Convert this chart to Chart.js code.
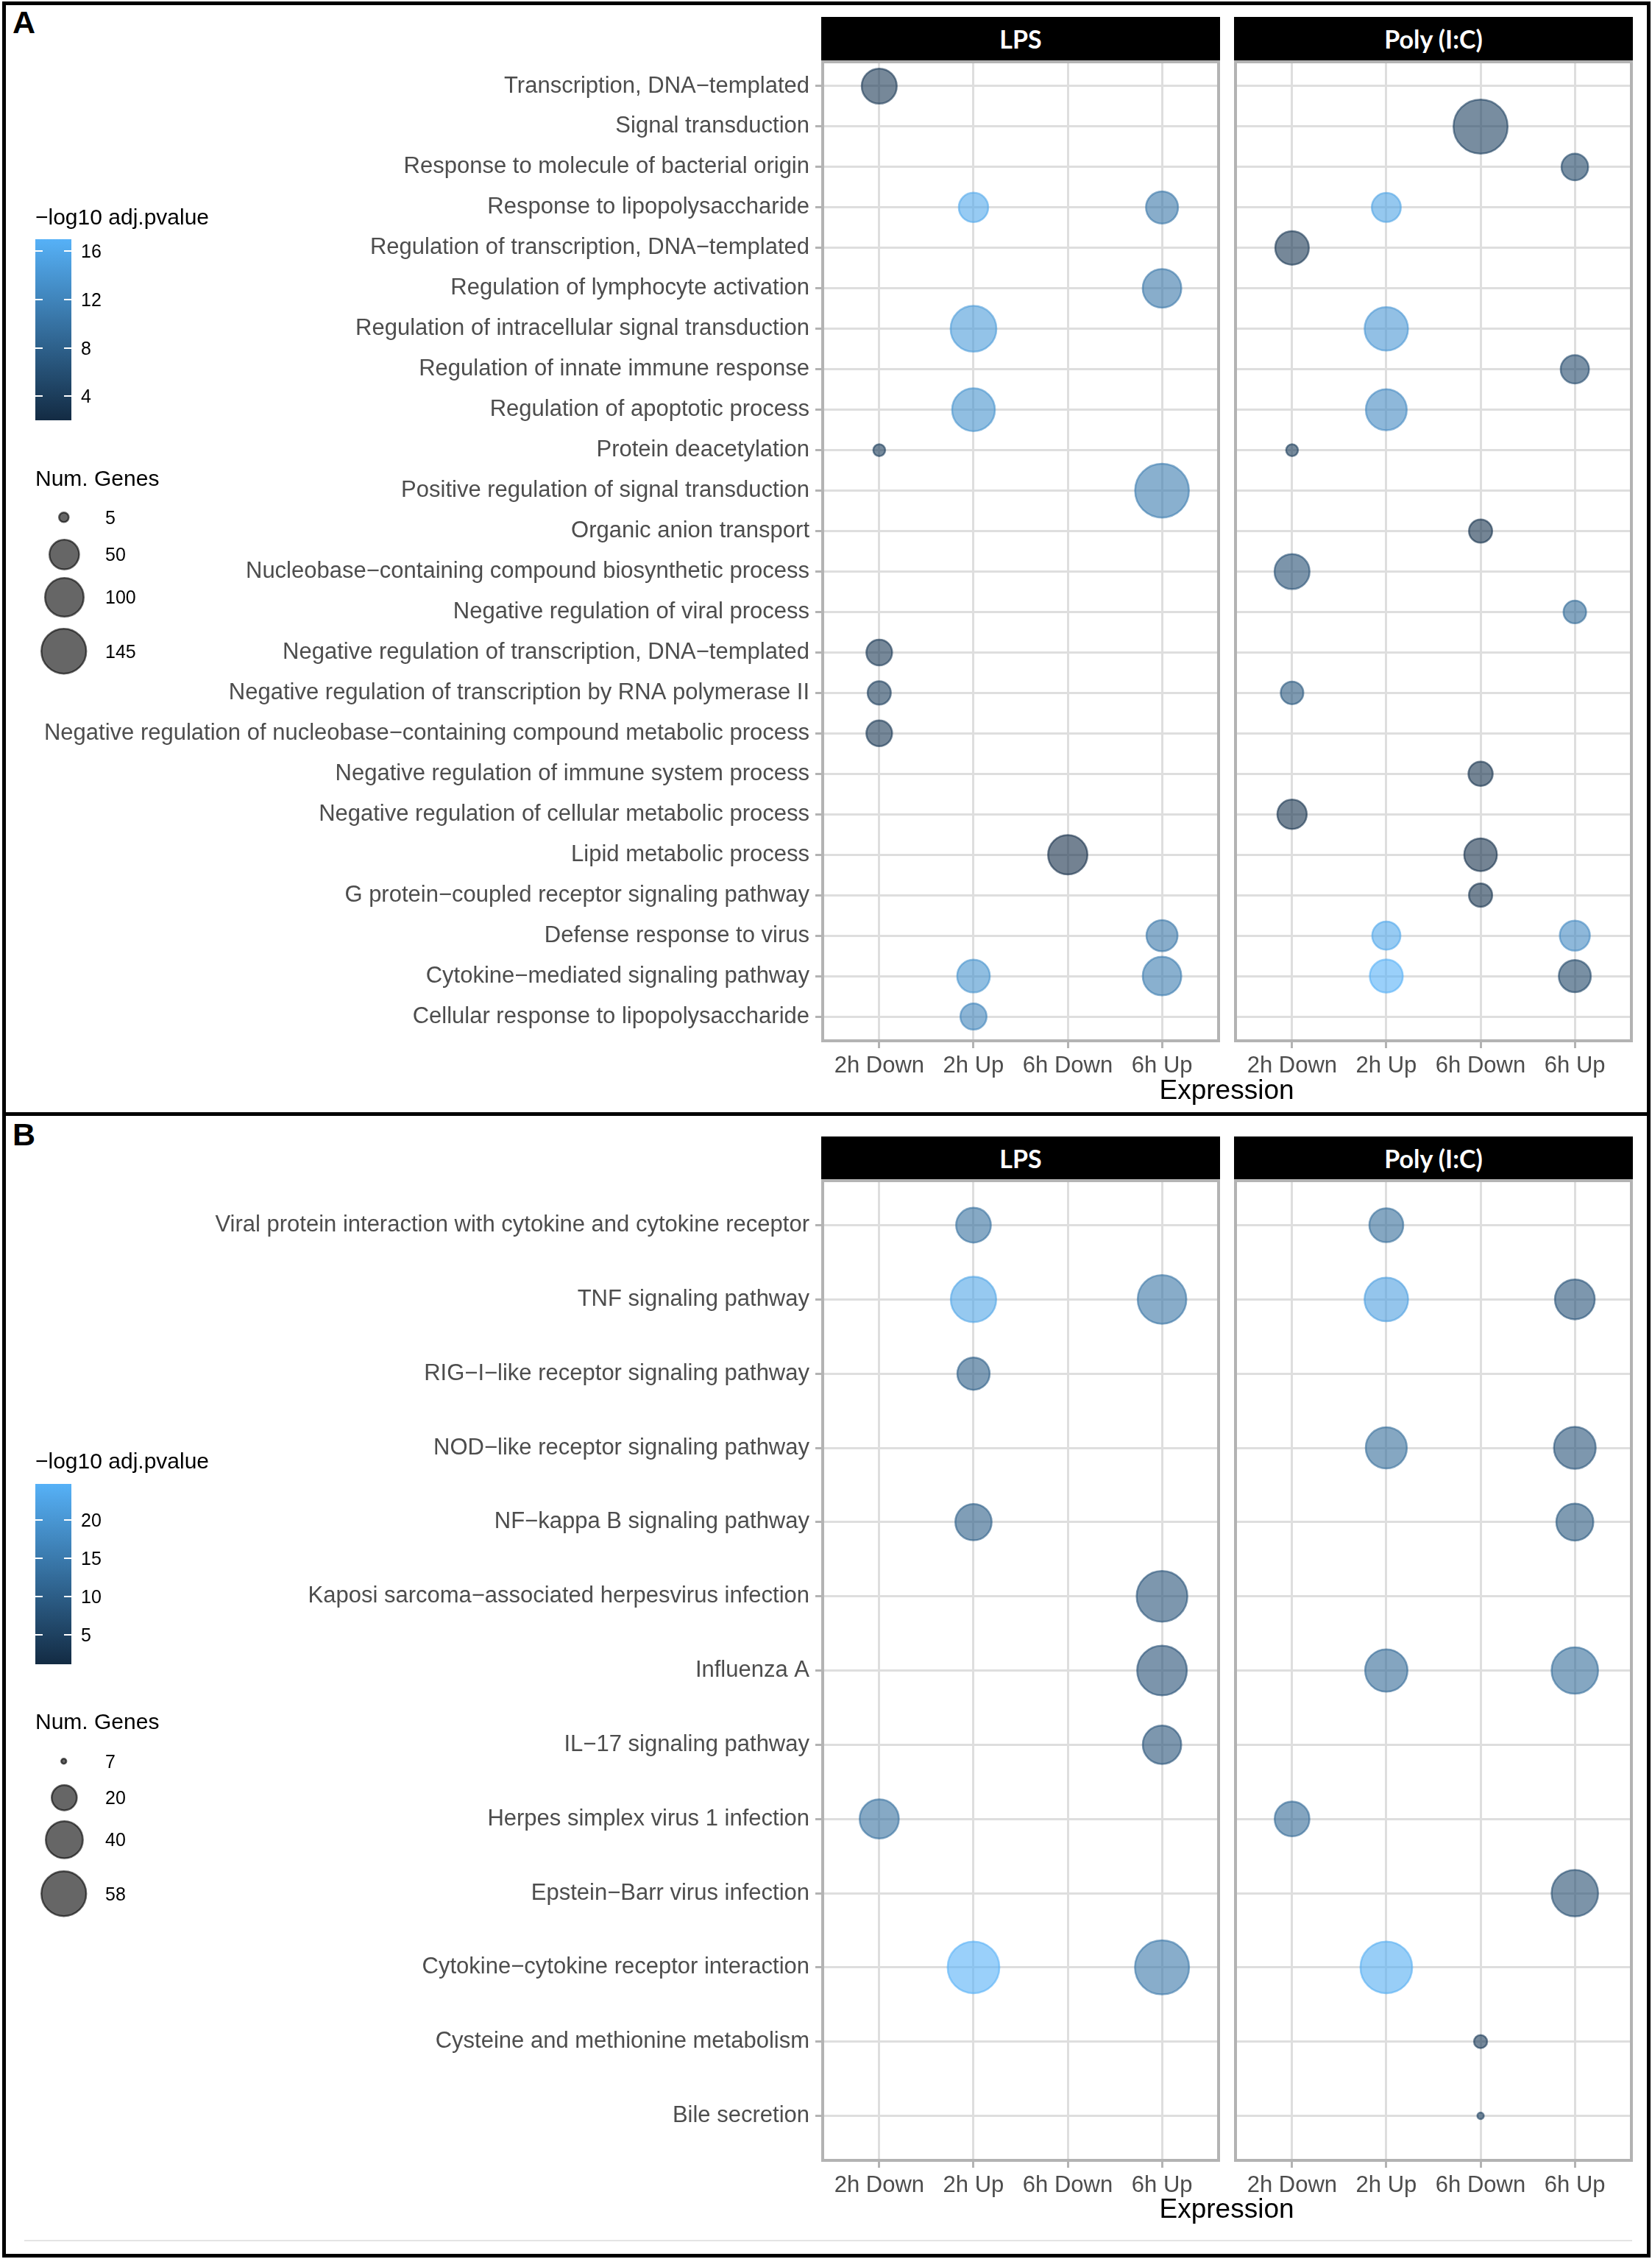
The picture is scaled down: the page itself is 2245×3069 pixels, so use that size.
<!DOCTYPE html>
<html>
<head>
<meta charset="utf-8">
<script src="https://cdn.jsdelivr.net/npm/chart.js@4.4.1/dist/chart.umd.min.js"></script>
<style>
  body { margin: 0; background: #fff; }
  #page { position: relative; width: 2245px; height: 3069px; overflow: hidden; background: #fff;
          font-family: 'Liberation Sans', Arial, sans-serif; }
  #page canvas { position: absolute; }
  .txt { position: absolute; line-height: 1; white-space: nowrap; color: #000; }
  .frame { position: absolute; border: 5px solid #000; box-sizing: border-box; }
  .strip { position: absolute; background: #000; color: #fff; display: flex; align-items: center;
           justify-content: center; font: bold 34px Lato, 'Open Sans', sans-serif; }
</style>
</head>
<body>
<div id="page">
  <div class="frame" style="left:3px;top:2px;width:2240px;height:1514px"></div>
  <div class="frame" style="left:3px;top:1511px;width:2240px;height:1556px"></div>
  <div style="position:absolute;left:33px;top:3043px;width:2185px;height:2px;background:#e4e4e4"></div>
</div>
<script>
// ---- data ----
var expression = ['2h Down', '2h Up', '6h Down', '6h Up'];
var treatments = ['LPS', 'Poly (I:C)'];

// panel A : GO biological process
var termsA = [
  'Transcription, DNA−templated',
  'Signal transduction',
  'Response to molecule of bacterial origin',
  'Response to lipopolysaccharide',
  'Regulation of transcription, DNA−templated',
  'Regulation of lymphocyte activation',
  'Regulation of intracellular signal transduction',
  'Regulation of innate immune response',
  'Regulation of apoptotic process',
  'Protein deacetylation',
  'Positive regulation of signal transduction',
  'Organic anion transport',
  'Nucleobase−containing compound biosynthetic process',
  'Negative regulation of viral process',
  'Negative regulation of transcription, DNA−templated',
  'Negative regulation of transcription by RNA polymerase II',
  'Negative regulation of nucleobase−containing compound metabolic process',
  'Negative regulation of immune system process',
  'Negative regulation of cellular metabolic process',
  'Lipid metabolic process',
  'G protein−coupled receptor signaling pathway',
  'Defense response to virus',
  'Cytokine−mediated signaling pathway',
  'Cellular response to lipopolysaccharide'
];
// one entry per point: term index, treatment index, expression index, genes, -log10 adj.p
var aTerm  = [0, 1, 2, 3, 3, 3, 4, 5, 6, 6, 7, 8, 8, 9, 9, 10, 11, 12, 13, 14, 15, 15, 16, 17, 18, 19, 19, 20, 21, 21, 21, 22, 22, 22, 22, 23];
var aTreat = [0, 1, 1, 0, 0, 1, 1, 0, 0, 1, 1, 0, 1, 0, 1, 0, 1, 1, 1, 0, 0, 1, 0, 1, 1, 0, 1, 1, 0, 1, 1, 0, 0, 1, 1, 0];
var aExpr  = [0, 2, 3, 1, 3, 1, 0, 3, 1, 1, 3, 1, 1, 0, 0, 3, 2, 0, 3, 0, 0, 0, 0, 2, 0, 2, 2, 2, 3, 1, 3, 1, 3, 1, 3, 1];
var aGenes = [47, 145, 22, 29, 37, 28, 42, 61, 95, 83, 26, 80, 71, 5, 5, 143, 15, 47, 14, 20, 15, 14, 20, 17, 29, 64, 39, 15, 34, 26, 31, 39, 61, 40, 37, 21];
var aPval  = [3.5, 4.5, 5.0, 16.0, 10.5, 15.5, 3.5, 10.5, 14.5, 14.0, 5.5, 13.5, 12.5, 4.0, 4.0, 11.0, 3.0, 6.0, 9.0, 3.5, 4.0, 7.0, 3.5, 3.0, 3.0, 2.5, 2.8, 3.0, 10.5, 16.0, 12.5, 13.5, 11.0, 17.0, 5.0, 12.0];
var aPvalLimits = [2.0, 17.0];
var aPvalBreaks = [4, 8, 12, 16];
var aGeneLimits = [5, 145];
var aGeneBreaks = [5, 50, 100, 145];

// panel B : KEGG pathways
var termsB = [
  'Viral protein interaction with cytokine and cytokine receptor',
  'TNF signaling pathway',
  'RIG−I−like receptor signaling pathway',
  'NOD−like receptor signaling pathway',
  'NF−kappa B signaling pathway',
  'Kaposi sarcoma−associated herpesvirus infection',
  'Influenza A',
  'IL−17 signaling pathway',
  'Herpes simplex virus 1 infection',
  'Epstein−Barr virus infection',
  'Cytokine−cytokine receptor interaction',
  'Cysteine and methionine metabolism',
  'Bile secretion'
];
var bTerm  = [0, 0, 1, 1, 1, 1, 2, 3, 3, 4, 4, 5, 6, 6, 6, 7, 8, 8, 9, 10, 10, 10, 11, 12];
var bTreat = [0, 1, 0, 0, 1, 1, 0, 1, 1, 0, 1, 0, 0, 1, 1, 0, 0, 1, 1, 0, 0, 1, 1, 1];
var bExpr  = [1, 1, 1, 3, 1, 3, 1, 1, 3, 1, 3, 3, 3, 1, 3, 3, 0, 0, 3, 1, 3, 1, 2, 2];
var bGenes = [25, 24, 41, 47, 38, 32, 22, 34, 35, 27, 28, 51, 49, 36, 43, 30, 31, 25, 43, 53, 58, 53, 8, 7];
var bPval  = [13.0, 12.5, 22.5, 14.0, 21.5, 8.0, 10.0, 12.5, 8.0, 10.0, 9.0, 8.0, 7.5, 12.0, 12.5, 8.0, 13.0, 12.0, 7.0, 24.7, 14.5, 24.0, 4.0, 5.0];
var bPvalLimits = [1.1, 24.7];
var bPvalBreaks = [5, 10, 15, 20];
var bGeneLimits = [7, 58];
var bGeneBreaks = [7, 20, 40, 58];

// ---- styling / layout ----
var lowColor = [19, 43, 67], highColor = [86, 177, 247];
var pointAlpha = 0.6;
var colLPS = [1118, 1656], colPoly = [1679, 2217];

var panels = [
  { tag: 'A', terms: termsA, term: aTerm, treat: aTreat, expr: aExpr, genes: aGenes, pval: aPval,
    pLim: aPvalLimits, pBreaks: aPvalBreaks, gLim: aGeneLimits, gBreaks: aGeneBreaks,
    keyR: [7.8, 31.7], tagTop: 9, top: 84, bottom: 1414, stripTop: 23, titleY: 1484,
    legTitle: 298, barTop: 325, barBottom: 571, sizeTitle: 650, keyY: [703, 753, 811, 885] },
  { tag: 'B', terms: termsB, term: bTerm, treat: bTreat, expr: bExpr, genes: bGenes, pval: bPval,
    pLim: bPvalLimits, pBreaks: bPvalBreaks, gLim: bGeneLimits, gBreaks: bGeneBreaks,
    keyR: [4.7, 31.7], tagTop: 1520, top: 1604, bottom: 2935, stripTop: 1544, titleY: 3004,
    legTitle: 1988, barTop: 2016, barBottom: 2261, sizeTitle: 2339, keyY: [2393, 2442, 2499, 2573] }
];

Chart.defaults.font.family = "'Liberation Sans', Arial, sans-serif";

var page = document.getElementById('page');

function addText(str, left, top, size, opts) {
  var d = document.createElement('div');
  d.className = 'txt';
  d.textContent = str;
  d.style.left = left + 'px';
  d.style.top = top + 'px';
  d.style.fontSize = size + 'px';
  if (opts) for (var k in opts) d.style[k] = opts[k];
  page.appendChild(d);
  return d;
}

function mix(t) {
  t = Math.max(0, Math.min(1, t));
  return lowColor.map(function (c, i) { return Math.round(c + (highColor[i] - c) * t); });
}
function pvalColor(p, v, alpha) {
  var c = mix((v - p.pLim[0]) / (p.pLim[1] - p.pLim[0]));
  return 'rgba(' + c[0] + ',' + c[1] + ',' + c[2] + ',' + alpha + ')';
}
// area scale like ggplot's scale_size: radius grows with sqrt of rescaled count
function keyRadius(p, n) {
  var s = Math.sqrt(Math.max(0, (n - p.gLim[0]) / (p.gLim[1] - p.gLim[0])));
  return p.keyR[0] + (p.keyR[1] - p.keyR[0]) * s;
}
function plotRadius(p, n) { return keyRadius(p, n) * 1.2 - 1.25; }

var panelBorder = {
  id: 'panelBorder',
  afterDatasetsDraw: function (chart) {
    var a = chart.chartArea, c = chart.ctx;
    c.save();
    c.strokeStyle = '#b3b3b3';
    c.lineWidth = 4;
    c.strokeRect(a.left, a.top, a.right - a.left, a.bottom - a.top);
    c.restore();
  }
};

function noPad(s) { s.paddingTop = 0; s.paddingBottom = 0; s.paddingLeft = 0; s.paddingRight = 0; }

function drawFacet(p, treat, cols, showY) {
  var pad = 10, xAxisH = 70;
  var cLeft = showY ? 0 : cols[0] - pad;
  var width = cols[1] + pad - cLeft;
  var height = pad + (p.bottom - p.top) + xAxisH;
  var canvas = document.createElement('canvas');
  canvas.width = width; canvas.height = height;
  canvas.style.left = cLeft + 'px';
  canvas.style.top = (p.top - pad) + 'px';
  canvas.style.width = width + 'px';
  canvas.style.height = height + 'px';
  page.appendChild(canvas);

  var pts = [];
  for (var i = 0; i < p.term.length; i++) {
    if (p.treat[i] !== treat) continue;
    pts.push({ x: p.expr[i], y: p.term[i], r: plotRadius(p, p.genes[i]), v: p.pval[i] });
  }
  var nT = p.terms.length;

  new Chart(canvas.getContext('2d'), {
    type: 'bubble',
    data: {
      datasets: [{
        data: pts,
        backgroundColor: function (c) { return pvalColor(p, c.raw.v, pointAlpha); },
        borderColor: function (c) { return pvalColor(p, c.raw.v, pointAlpha); },
        borderWidth: 2.5,
        hoverRadius: 0
      }]
    },
    options: {
      responsive: false,
      animation: false,
      devicePixelRatio: 1,
      events: [],
      layout: { autoPadding: false, padding: { top: pad, right: pad, bottom: 0, left: showY ? 0 : pad } },
      plugins: { legend: { display: false }, tooltip: { enabled: false } },
      scales: {
        x: {
          type: 'linear', min: -0.6, max: expression.length - 0.4,
          afterBuildTicks: function (s) { s.ticks = expression.map(function (e, i) { return { value: i }; }); },
          afterFit: function (s) { s.height = xAxisH; noPad(s); },
          ticks: {
            autoSkip: false, maxRotation: 0, padding: 6, color: '#4d4d4d', font: { size: 31 },
            callback: function (v) { return expression[v]; }
          },
          grid: { color: '#dedede', lineWidth: 3, tickColor: '#b3b3b3', tickWidth: 3, tickLength: 10 },
          border: { display: false }
        },
        y: {
          type: 'linear', reverse: true, min: -0.6, max: nT - 0.4,
          afterBuildTicks: function (s) { s.ticks = p.terms.map(function (t, i) { return { value: i }; }); },
          afterFit: function (s) { s.width = showY ? cols[0] : 0; noPad(s); },
          ticks: {
            display: showY, autoSkip: false, padding: 8, color: '#4d4d4d', font: { size: 31 },
            callback: function (v) { return p.terms[v]; }
          },
          grid: { color: '#dedede', lineWidth: 3, tickColor: '#b3b3b3', tickWidth: 3, tickLength: 10, drawTicks: showY },
          border: { display: false }
        }
      }
    },
    plugins: [panelBorder]
  });

  var strip = document.createElement('div');
  strip.className = 'strip';
  strip.textContent = treatments[treat];
  strip.style.left = (cols[0] - 2) + 'px';
  strip.style.width = (cols[1] - cols[0] + 4) + 'px';
  strip.style.top = p.stripTop + 'px';
  strip.style.height = (p.top - p.stripTop - 2) + 'px';
  page.appendChild(strip);
}

function drawLegends(p) {
  // colour bar
  addText('−log10 adj.pvalue', 48, p.legTitle - 18, 30);
  var barL = 48, barW = 49;
  var bar = document.createElement('div');
  bar.style.cssText = 'position:absolute;left:' + barL + 'px;top:' + p.barTop + 'px;width:' + barW +
    'px;height:' + (p.barBottom - p.barTop) + 'px;background:linear-gradient(to top, rgb(' +
    lowColor.join(',') + '), rgb(' + highColor.join(',') + '))';
  page.appendChild(bar);
  p.pBreaks.forEach(function (b) {
    var y = p.barBottom - (b - p.pLim[0]) / (p.pLim[1] - p.pLim[0]) * (p.barBottom - p.barTop);
    [barL, barL + barW - 10].forEach(function (x) {
      var t = document.createElement('div');
      t.style.cssText = 'position:absolute;left:' + x + 'px;top:' + (y - 1) + 'px;width:10px;height:2px;background:#fff';
      page.appendChild(t);
    });
    addText(String(b), 110, y - 12, 25);
  });
  // size keys
  addText('Num. Genes', 48, p.sizeTitle - 15, 30);
  var ns = 'http://www.w3.org/2000/svg';
  p.gBreaks.forEach(function (g, i) {
    var r = keyRadius(p, g);
    var svg = document.createElementNS(ns, 'svg');
    svg.setAttribute('width', 2 * r + 4);
    svg.setAttribute('height', 2 * r + 4);
    svg.style.cssText = 'position:absolute;left:' + (87 - r - 2) + 'px;top:' + (p.keyY[i] - r - 2) + 'px';
    var c = document.createElementNS(ns, 'circle');
    c.setAttribute('cx', r + 2); c.setAttribute('cy', r + 2); c.setAttribute('r', r - 1.25);
    c.setAttribute('fill', 'rgba(0,0,0,' + pointAlpha + ')');
    c.setAttribute('stroke', 'rgba(0,0,0,' + pointAlpha + ')');
    c.setAttribute('stroke-width', 2.5);
    svg.appendChild(c);
    page.appendChild(svg);
    addText(String(g), 143, p.keyY[i] - 12, 25);
  });
}

panels.forEach(function (p) {
  addText(p.tag, 17, p.tagTop, 43, { fontWeight: 'bold' });
  drawFacet(p, 0, colLPS, true);
  drawFacet(p, 1, colPoly, false);
  var t = addText('Expression', 0, p.titleY - 22, 37);
  t.style.left = (1667 - t.offsetWidth / 2) + 'px';
  drawLegends(p);
});
</script>
</body>
</html>
